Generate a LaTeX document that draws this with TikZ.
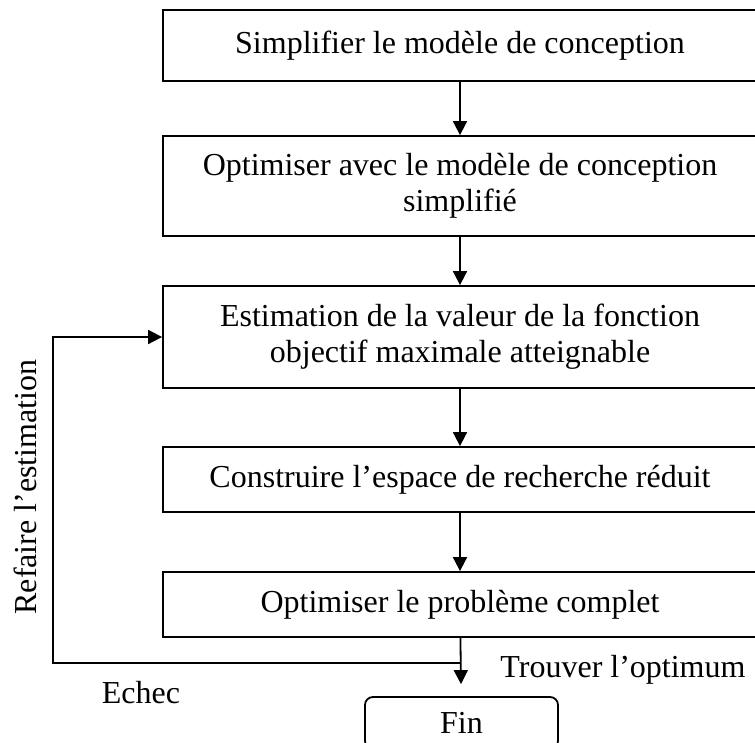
\documentclass[tikz,border=0pt]{standalone}
\usepackage{fontspec}
\setmainfont{Liberation Serif}
\usepackage{tikz}
\usetikzlibrary{arrows.meta, positioning, calc}

\begin{document}
\begin{tikzpicture}[x=1pt, y=-1pt,
  stepbox/.style={rectangle, draw=black, line width=1.8pt, align=center,
                  minimum width=594pt, minimum height=#1, inner sep=0pt,
                  font=\fontsize{32}{36}\selectfont},
  endbox/.style={stepbox=52pt, minimum width=193pt, rounded corners=8pt},
  flow/.style={-{Triangle[length=14pt, width=14pt]}, line width=1.8pt},
  lbl/.style={font=\fontsize{32}{36}\selectfont, inner sep=0pt},
]
  \useasboundingbox (0,0) rectangle (755,742);
  \clip (0,0) rectangle (755,742);

  % Steps
  \node[stepbox=71pt]  (simp)  at (460,45.5)  {Simplifier le modèle de conception};
  \node[stepbox=100pt] (optsm) at (460,186)   {Optimiser avec le modèle de conception\\simplifié};
  \node[stepbox=102pt] (estim) at (460,337)   {Estimation de la valeur de la fonction\\objectif maximale atteignable};
  \node[stepbox=65pt]  (espace) at (460,479.5) {Construire l’espace de recherche réduit};
  \node[stepbox=65pt]  (optcp) at (460,604.5) {Optimiser le problème complet};
  \node[endbox]        (fin)   at (461.5,723) {Fin};

  % Flow
  \draw[flow] (simp) -- (optsm);
  \draw[flow] (optsm) -- (estim);
  \draw[flow] (estim) -- (espace);
  \draw[flow] (espace) -- (optcp);
  \draw[flow, shorten >=12pt] (optcp) -- (fin);

  % Loop back
  \coordinate (back) at (53,663);
  \draw[flow] (back -| optcp.south) -- (back) |- (estim.west);

  % Labels
  \node[lbl, rotate=90] (refaire) at (25,487) {Refaire l’estimation};
  \node[lbl] (echec)  at (141,693) {Echec};
  \node[lbl] (trouve) at (623,670) {Trouver l’optimum};
\end{tikzpicture}
\end{document}
